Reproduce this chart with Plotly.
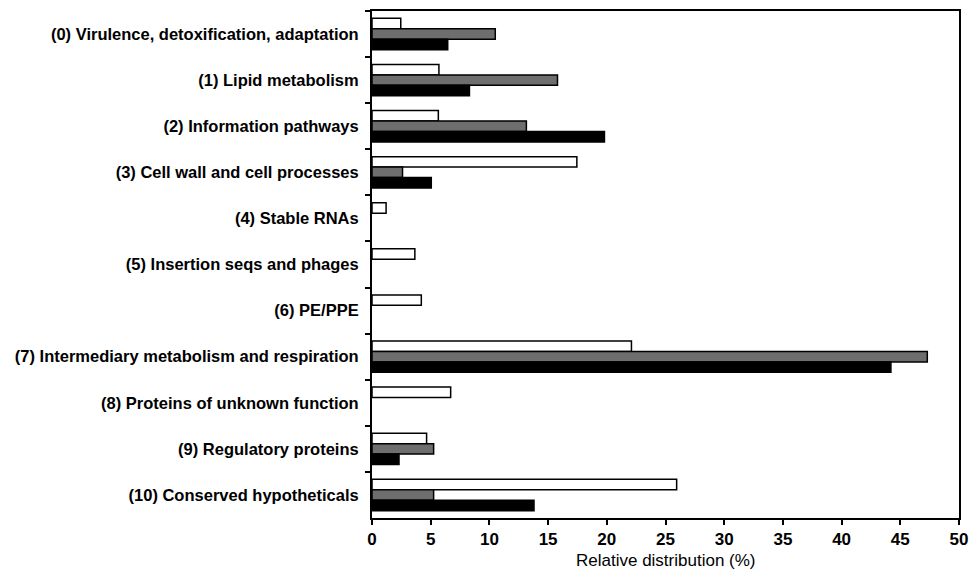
import plotly.graph_objects as go

categories = [
    "(0) Virulence, detoxification, adaptation",
    "(1) Lipid metabolism",
    "(2) Information pathways",
    "(3) Cell wall and cell processes",
    "(4) Stable RNAs",
    "(5) Insertion seqs and phages",
    "(6) PE/PPE",
    "(7) Intermediary metabolism and respiration",
    "(8) Proteins of unknown function",
    "(9) Regulatory proteins",
    "(10) Conserved hypotheticals",
]
series_white = [2.45, 5.7, 5.65, 17.45, 1.2, 3.65, 4.2, 22.1, 6.7, 4.65, 25.95]
series_gray = [10.5, 15.8, 13.15, 2.6, None, None, None, 47.3, None, 5.25, 5.25]
series_black = [6.45, 8.3, 19.8, 5.05, None, None, None, 44.2, None, 2.3, 13.8]
x_ticks = [0, 5, 10, 15, 20, 25, 30, 35, 40, 45, 50]
x_title = "Relative distribution (%)"

FONT = "Liberation Sans, Arial, sans-serif"
W, H = 970, 570
M = dict(l=372, r=11, t=11, b=52)
plot_h = H - M["t"] - M["b"]

fig = go.Figure()
for vals, col in [(series_white, "#ffffff"), (series_gray, "#6e6e6e"), (series_black, "#000000")]:
    fig.add_trace(go.Bar(
        y=categories, x=vals, orientation="h",
        marker=dict(color=col, line=dict(color="#000000", width=1.5)),
        showlegend=False, hoverinfo="skip",
    ))

fig.update_layout(
    width=W, height=H,
    margin=M,
    paper_bgcolor="white", plot_bgcolor="white",
    barmode="group", bargap=0.32, bargroupgap=0,
    font=dict(family=FONT, color="#000000"),
)
fig.update_xaxes(
    range=[0, 50], tickvals=x_ticks, ticktext=[str(t) for t in x_ticks],
    showgrid=False, zeroline=False, automargin=False,
    showline=True, linecolor="#000000", linewidth=2, mirror=True,
    ticks="outside", ticklen=5, tickwidth=2, tickcolor="#000000",
    tickfont=dict(size=17, family=FONT, weight="bold"),
)
fig.update_yaxes(
    autorange="reversed", showgrid=False, zeroline=False, automargin=False,
    showline=True, linecolor="#000000", linewidth=2, mirror=True,
    ticks="outside", tickson="boundaries", ticklen=5, tickwidth=2, tickcolor="#000000",
    tickfont=dict(size=16.5, family=FONT, weight="bold"),
    ticklabelstandoff=8,
)
fig.add_annotation(
    text=x_title, xref="x domain", x=0.5, yref="paper", y=-42 / plot_h,
    xanchor="center", yanchor="middle", showarrow=False,
    font=dict(size=17, family=FONT, color="#000000"),
)

fig.write_html(
    "out.html",
    config={"displayModeBar": False},
    post_script="document.body.style.margin='0';document.body.style.overflow='hidden';",
)
